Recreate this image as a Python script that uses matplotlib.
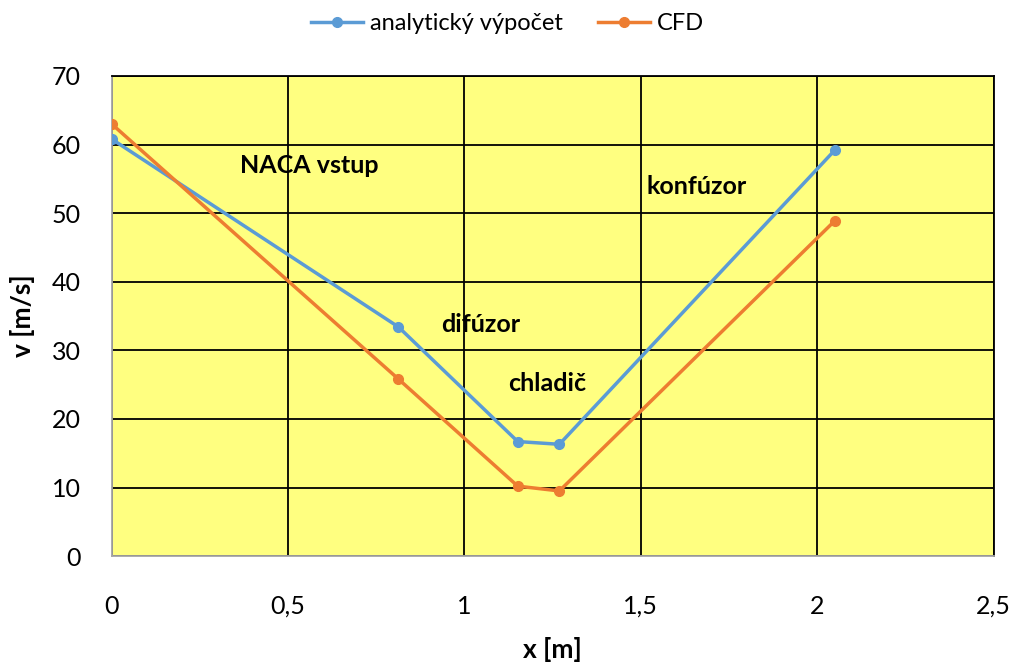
import matplotlib.pyplot as plt

plt.rcParams['font.family'] = ['Lato', 'DejaVu Sans']

x_analytic = [0, 0.813, 1.151, 1.269, 2.05]
v_analytic = [60.8, 33.4, 16.7, 16.3, 59.2]
x_cfd = [0, 0.813, 1.151, 1.269, 2.05]
v_cfd = [63.0, 25.8, 10.2, 9.5, 48.9]

labels = ['NACA vstup', 'difúzor', 'chladič', 'konfúzor']
label_x = [0.56, 1.045, 1.235, 1.657]
label_y = [56.9, 33.8, 25.2, 53.9]

fig = plt.figure(figsize=(10.15, 6.66), dpi=100)
ax = fig.add_axes([0.110, 0.165, 0.869, 0.721])
ax.set_facecolor('#FFFF80')

ax.plot(x_analytic, v_analytic, color='#5B9BD5', lw=2.5, marker='o', ms=7,
        label='analytický výpočet', zorder=3)
ax.plot(x_cfd, v_cfd, color='#ED7D31', lw=2.5, marker='o', ms=7,
        label='CFD', zorder=3)

for t, lx, ly in zip(labels, label_x, label_y):
    ax.text(lx, ly, t, fontsize=18, fontweight='bold', ha='center', va='center')

ax.set_xlim(0, 2.5)
ax.set_ylim(0, 70)
ax.set_xticks([0, 0.5, 1, 1.5, 2, 2.5])
ax.set_xticklabels(['0', '0,5', '1', '1,5', '2', '2,5'])
ax.set_yticks(range(0, 71, 10))
ax.grid(True, color='black', lw=1.3)
ax.set_axisbelow(True)
ax.tick_params(axis='x', length=0, labelsize=18, pad=28)
ax.tick_params(axis='y', length=0, labelsize=18, pad=22)

for s in ['left', 'bottom']:
    ax.spines[s].set_color('#A6A6A6')
    ax.spines[s].set_linewidth(1.3)
for s in ['top', 'right']:
    ax.spines[s].set_color('black')
    ax.spines[s].set_linewidth(1.3)

ax.set_xlabel('x [m]', fontsize=19, fontweight='bold', labelpad=14)
ax.set_ylabel('v [m/s]', fontsize=19, fontweight='bold', labelpad=12)

fig.legend(loc='center', bbox_to_anchor=(0.5, 0.965), ncol=2, frameon=False,
           fontsize=17, handlelength=2.2, columnspacing=1.5, handletextpad=0.3)

fig.savefig('out.png', dpi=100)
